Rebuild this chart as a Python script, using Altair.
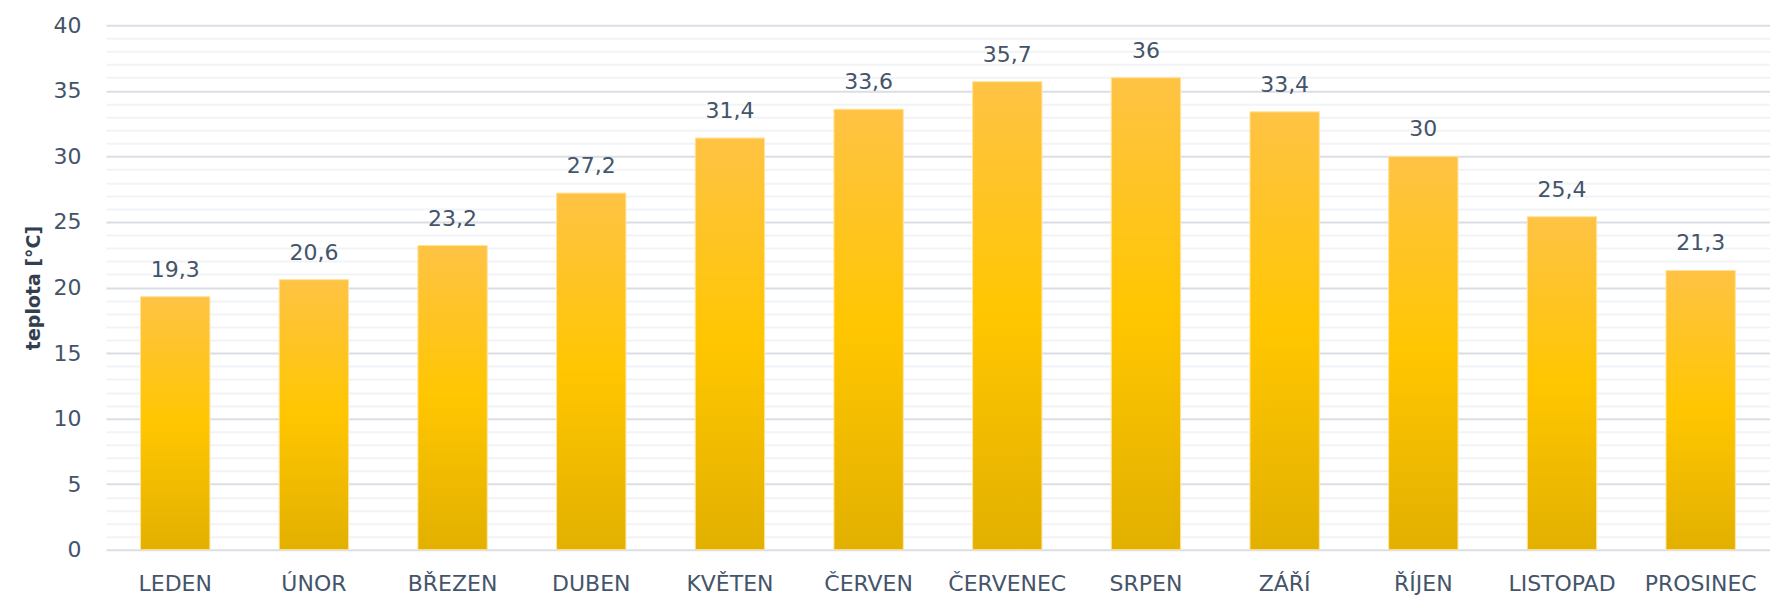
import altair as alt
import pandas as pd

months = ["LEDEN", "ÚNOR", "BŘEZEN", "DUBEN", "KVĚTEN", "ČERVEN",
          "ČERVENEC", "SRPEN", "ZÁŘÍ", "ŘÍJEN", "LISTOPAD", "PROSINEC"]
temps = [19.3, 20.6, 23.2, 27.2, 31.4, 33.6, 35.7, 36, 33.4, 30, 25.4, 21.3]
y_ticks = list(range(0, 41))

df = pd.DataFrame({"mesic": months, "teplota": temps})

FONT = "DejaVu Sans"
TXT = "#44546A"

x_enc = alt.X("mesic:N", sort=months, title=None,
              scale=alt.Scale(paddingInner=0.5, paddingOuter=0.25),
              axis=alt.Axis(labelAngle=0, ticks=False, domain=False, grid=False,
                            labelFont=FONT, labelFontSize=22, labelColor=TXT,
                            labelBaseline="alphabetic", labelPadding=41))

y_enc = alt.Y("teplota:Q", scale=alt.Scale(domain=[0, 40], nice=False), title="teplota [°C]",
              axis=alt.Axis(values=y_ticks, ticks=False, domain=False,
                            labelOverlap=False,
                            labelExpr="datum.value % 5 === 0 ? datum.label : ''",
                            labelFont=FONT, labelFontSize=22, labelColor=TXT,
                            labelPadding=25,
                            gridColor={"condition": {"test": "datum.value % 5 === 0", "value": "#DADFE6"},
                                       "value": "#F1F3F6"},
                            gridWidth=2,
                            titleFont=FONT, titleFontSize=19, titleFontWeight="bold",
                            titleColor="#333F50", titleX=-72, titleY=262.5,
                            titleAngle=270, titleAlign="center", titleBaseline="middle"))

bars = alt.Chart(df).mark_bar(
    color=alt.Gradient(
        gradient="linear", x1=0, y1=0, x2=0, y2=1,
        stops=[alt.GradientStop(color="#FFC345", offset=0),
               alt.GradientStop(color="#FFC600", offset=0.5),
               alt.GradientStop(color="#E2B000", offset=1)]),
    stroke="#FFE39A", strokeWidth=1
).encode(x=x_enc, y=y_enc)

labels = alt.Chart(df).transform_calculate(
    lab="replace(format(datum.teplota, '.1~f'), '.', ',')"
).mark_text(
    font=FONT, fontSize=22, color=TXT, baseline="alphabetic", dy=-20
).encode(x=x_enc, y=y_enc, text="lab:N")

chart = (bars + labels).properties(
    width=1666, height=525,
    autosize=alt.AutoSizeParams(type="none"),
    padding={"left": 106, "top": 25, "right": 0, "bottom": 45},
).configure(background="white").configure_view(strokeWidth=0, stroke="transparent")

chart.save("out.html", embed_options={"renderer": "svg", "actions": False})
